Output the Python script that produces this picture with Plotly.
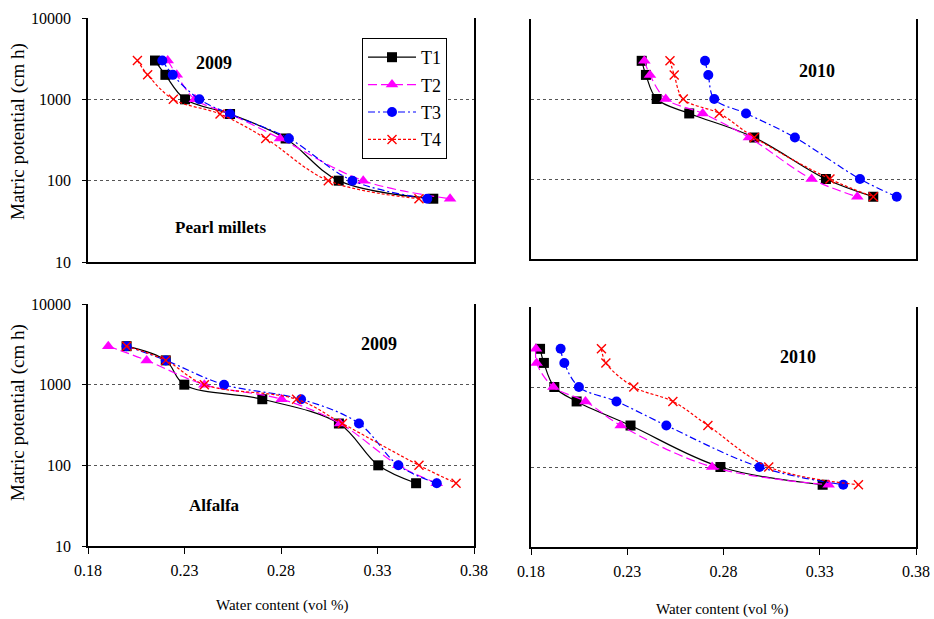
import plotly.graph_objects as go

# Matric potential levels (cm h)
potential = [3000, 2000, 1000, 660, 330, 100, 60]
series_names = ["T1", "T2", "T3", "T4"]

# Pearl millets 2009 (water content, vol)
pm2009_T1 = [0.2147, 0.2201, 0.2303, 0.2536, 0.2824, 0.3099, 0.3589]
pm2009_T2 = [0.2213, 0.2260, 0.2354, 0.2536, 0.2795, 0.3226, 0.3676]
pm2009_T3 = [0.2185, 0.2239, 0.2377, 0.2536, 0.2841, 0.3170, 0.3558]
pm2009_T4 = [0.2056, 0.2109, 0.2242, 0.2484, 0.2721, 0.3045, 0.3515]

# Pearl millets 2010
pm2010_T1 = [0.2375, 0.2397, 0.2453, 0.2622, 0.2960, 0.3332, 0.3578]
pm2010_T2 = [0.2389, 0.2418, 0.2500, 0.2692, 0.2932, 0.3258, 0.3495]
pm2010_T3 = [0.2704, 0.2721, 0.2752, 0.2917, 0.3171, 0.3509, 0.3700]
pm2010_T4 = [0.2522, 0.2544, 0.2591, 0.2778, 0.2960, 0.3353, 0.3578]

# Alfalfa 2009
al2009_T1 = [0.2000, 0.2203, 0.2299, 0.2703, 0.3100, 0.3304, 0.3500]
al2009_T2 = [0.1905, 0.2104, 0.2403, 0.2803, 0.3106, 0.3408, 0.3607]
al2009_T3 = [0.2000, 0.2203, 0.2505, 0.2904, 0.3204, 0.3408, 0.3607]
al2009_T4 = [0.2000, 0.2203, 0.2403, 0.2881, 0.3118, 0.3515, 0.3707]

# Alfalfa 2010
al2010_T1 = [0.1847, 0.1867, 0.1921, 0.2037, 0.2317, 0.2784, 0.3315]
al2010_T2 = [0.1826, 0.1829, 0.1916, 0.2083, 0.2266, 0.2741, 0.3346]
al2010_T3 = [0.1954, 0.1973, 0.2049, 0.2244, 0.2503, 0.2987, 0.3422]
al2010_T4 = [0.2166, 0.2189, 0.2334, 0.2537, 0.2719, 0.3035, 0.3501]

x_ticks = [0.18, 0.23, 0.28, 0.33, 0.38]
y_ticks = [10, 100, 1000, 10000]
y_ticklabels = ["10", "100", "1000", "10000"]

FONT = "Liberation Serif"

styles = {
    "T1": dict(line=dict(color="black", width=1.2, dash="solid"),
               marker=dict(symbol="square", size=10, color="black")),
    "T2": dict(line=dict(color="#FF00FF", width=1.2, dash="9px,4px"),
               marker=dict(symbol="triangle-up", size=11, color="#FF00FF")),
    "T3": dict(line=dict(color="#0000FF", width=1.2, dash="7px,3px,2px,3px"),
               marker=dict(symbol="circle", size=10, color="#0000FF")),
    "T4": dict(line=dict(color="#FF0000", width=1.2, dash="3px,2px"),
               marker=dict(symbol="x-thin", size=9, color="#FF0000",
                           line=dict(color="#FF0000", width=1.4))),
}

panels = [
    ("x", "y", [pm2009_T1, pm2009_T2, pm2009_T3, pm2009_T4], True),
    ("x2", "y2", [pm2010_T1, pm2010_T2, pm2010_T3, pm2010_T4], False),
    ("x3", "y3", [al2009_T1, al2009_T2, al2009_T3, al2009_T4], False),
    ("x4", "y4", [al2010_T1, al2010_T2, al2010_T3, al2010_T4], False),
]

fig = go.Figure()
for xa, ya, data, show in panels:
    for name, xs in zip(series_names, data):
        st = styles[name]
        fig.add_trace(go.Scatter(
            x=xs, y=potential, name=name, xaxis=xa, yaxis=ya,
            mode="lines+markers", line_shape="spline",
            line=st["line"], marker=st["marker"],
            showlegend=show, legendgroup=name,
        ))

W, H = 934, 619
def px(v):
    return v / W
def py(v):
    return 1 - v / H

common_x = dict(range=[0.18, 0.38], tickvals=x_ticks, tickformat=".2f",
                showgrid=False, zeroline=False, showline=True, automargin=False,
                linecolor="black", linewidth=1.5,
                tickfont=dict(family=FONT, size=16, color="black"))
common_y = dict(type="log", range=[1, 4], tickvals=y_ticks, ticktext=y_ticklabels,
                showgrid=True, gridcolor="#555555", griddash="dot", gridwidth=1,
                zeroline=False, showline=True, mirror=True, automargin=False,
                linecolor="black", linewidth=1.5,
                tickfont=dict(family=FONT, size=16, color="black"))

L = [px(88), px(474)]
R = [px(531), px(916)]

fig.update_layout(
    width=W, height=H,
    margin=dict(l=0, r=0, t=0, b=0, autoexpand=False),
    paper_bgcolor="white", plot_bgcolor="white",
    font=dict(family=FONT, size=16, color="black"),
    xaxis=dict(common_x, domain=L, anchor="y", showticklabels=False, ticks=""),
    yaxis=dict(common_y, domain=[py(262), py(18)], anchor="x",
               ticks="outside", ticklen=4, tickcolor="black", ticklabelstandoff=8),
    xaxis2=dict(common_x, domain=R, anchor="y2", showticklabels=False, ticks=""),
    yaxis2=dict(common_y, domain=[py(259), py(19)], anchor="x2",
                showticklabels=False, ticks=""),
    xaxis3=dict(common_x, domain=L, anchor="y3", ticks="outside", ticklen=6,
                tickcolor="black", ticklabelstandoff=3),
    yaxis3=dict(common_y, domain=[py(546), py(304)], anchor="x3",
                ticks="outside", ticklen=4, tickcolor="black", ticklabelstandoff=8),
    xaxis4=dict(common_x, domain=R, anchor="y4", ticks="outside", ticklen=6,
                tickcolor="black", ticklabelstandoff=3),
    yaxis4=dict(common_y, domain=[py(547), py(307)], anchor="x4",
                showticklabels=False, ticks=""),
    legend=dict(x=px(362), y=py(38), xanchor="left", yanchor="top",
                bgcolor="white", bordercolor="black", borderwidth=1,
                font=dict(family=FONT, size=18, color="black"),
                itemwidth=48, tracegroupgap=1),
)

ann = []
def text(x, y, s, size=18, bold=True, angle=0):
    ann.append(dict(x=px(x), y=py(y), xref="paper", yref="paper",
                    text=f"<b>{s}</b>" if bold else s, showarrow=False,
                    textangle=angle, xanchor="center", yanchor="middle",
                    font=dict(family=FONT, size=size, color="black")))

text(214, 63, "2009")
text(220, 227, "Pearl millets", size=17)
text(817, 71, "2010")
text(379, 344, "2009")
text(214, 505, "Alfalfa", size=17)
text(798, 357, "2010")
text(18, 132, "Matric potential (cm h)", size=19, bold=False, angle=-90)
text(18, 413, "Matric potential (cm h)", size=19, bold=False, angle=-90)
text(282, 605, "Water content (vol %)", size=15, bold=False)
text(722, 609, "Water content (vol %)", size=15, bold=False)
fig.update_layout(annotations=ann)

fig.write_html(
    "out.html",
    config={"displayModeBar": False},
    post_script="document.body.style.margin='0';document.body.style.overflow='hidden';",
)
